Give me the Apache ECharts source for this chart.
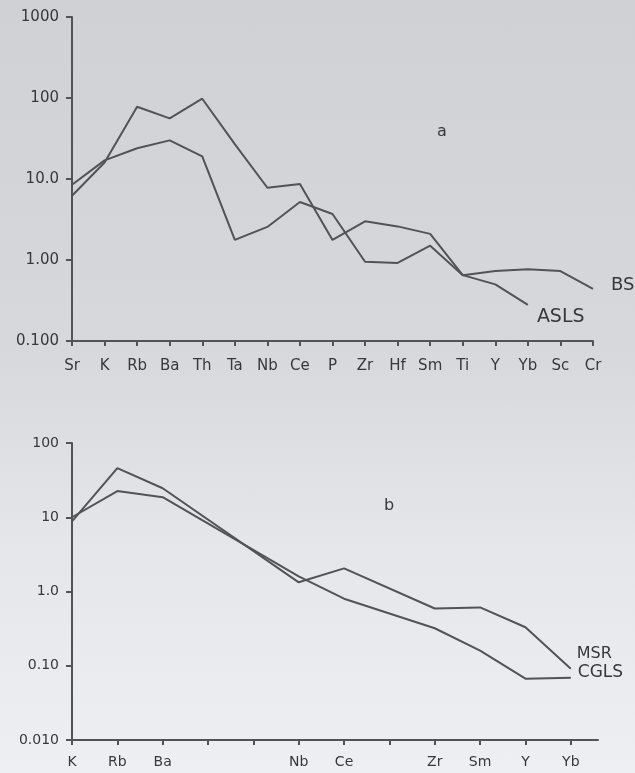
<!DOCTYPE html>
<html>
<head>
<meta charset="utf-8">
<script src="https://cdn.jsdelivr.net/npm/echarts@6/dist/echarts.min.js"></script>
<style>
  html, body { margin: 0; padding: 0; }
  body { background: linear-gradient(180deg, #d0d1d4 0%, #d7d8db 45%, #e5e6ea 70%, #eeeff2 100%); }
  #chart { width: 635px; height: 773px; }
</style>
</head>
<body>
<div id="chart"></div>
<script>
  // 图 a：元素及数值
  const catsA = ['Sr', 'K', 'Rb', 'Ba', 'Th', 'Ta', 'Nb', 'Ce', 'P', 'Zr', 'Hf', 'Sm', 'Ti', 'Y', 'Yb', 'Sc', 'Cr'];
  const bsValues = [6.2, 16, 78, 56, 98, 27, 7.8, 8.7, 1.77, 3.0, 2.6, 2.1, 0.65, 0.73, 0.77, 0.73, 0.44];
  const aslsValues = [8.5, 17, 24, 30, 19, 1.77, 2.56, 5.2, 3.7, 0.95, 0.92, 1.5, 0.65, 0.50, 0.28, null, null];
  const yLabelsA = ['0.100', '1.00', '10.0', '100', '1000'];

  // 图 b
  const catsB = ['K', 'Rb', 'Ba', '', '', 'Nb', 'Ce', '', 'Zr', 'Sm', 'Y', 'Yb'];
  const msrValues = [8.8, 46, 24.6, null, null, 1.33, 2.05, null, 0.59, 0.61, 0.33, 0.091];
  const cglsValues = [10, 22.5, 18.6, null, null, 1.6, 0.80, null, 0.32, 0.16, 0.067, 0.069];
  const yLabelsB = ['0.010', '0.10', '1.0', '10', '100'];

  const lineColor = '#535256';
  const textColor = '#38383c';
  const font = 'DejaVu Sans';

  // 去掉空值，转成 [序号, 数值]
  function pairs(vals) {
    let out = [];
    vals.forEach((v, i) => {
      if (v != null) out.push([i, v]);
    });
    return out;
  }

  function yAxis(gridIndex, min, max, labels, size) {
    let minExp = Math.round(Math.log10(min));
    return {
      gridIndex: gridIndex,
      type: 'log',
      logBase: 10,
      min: min,
      max: max,
      splitNumber: 4,
      axisLine: { show: true, lineStyle: { color: lineColor, width: 2 } },
      axisTick: { show: true, length: 6, lineStyle: { color: lineColor, width: 2 } },
      axisLabel: {
        margin: 13,
        color: textColor,
        fontFamily: font,
        fontSize: size,
        formatter: v => labels[Math.round(Math.log10(v)) - minExp]
      },
      splitLine: { show: false },
      minorTick: { show: false }
    };
  }

  function line(name, data, xi, offset, size) {
    return {
      name: name,
      type: 'line',
      xAxisIndex: xi,
      yAxisIndex: xi,
      data: pairs(data),
      symbol: 'none',
      lineStyle: { color: lineColor, width: 2 },
      endLabel: {
        show: true,
        formatter: name,
        color: textColor,
        fontFamily: font,
        fontSize: size,
        offset: offset
      }
    };
  }

  let option = {
    animation: false,
    grid: [
      { left: 72, top: 17, width: 521, height: 324 },
      { left: 72, top: 443, width: 526, height: 297 }
    ],
    xAxis: [{
      gridIndex: 0,
      type: 'value',
      min: 0,
      max: catsA.length - 1,
      interval: 1,
      axisLine: { show: true, onZero: false, lineStyle: { color: lineColor, width: 2 } },
      axisTick: { show: true, length: 5, lineStyle: { color: lineColor, width: 2 } },
      axisLabel: {
        margin: 18,
        color: textColor,
        fontFamily: font,
        fontSize: 15,
        formatter: v => catsA[Math.round(v)]
      },
      splitLine: { show: false }
    }, {
      gridIndex: 1,
      type: 'value',
      min: 0,
      max: 11.6,
      axisLine: { show: true, onZero: false, lineStyle: { color: lineColor, width: 2 } },
      axisTick: {
        show: true, length: 5, lineStyle: { color: lineColor, width: 2 },
        customValues: catsB.map((c, i) => i)
      },
      axisLabel: {
        margin: 15,
        color: textColor,
        fontFamily: font,
        fontSize: 14,
        customValues: catsB.map((c, i) => i).filter(i => catsB[i] !== ''),
        formatter: v => catsB[Math.round(v)]
      },
      splitLine: { show: false }
    }],
    yAxis: [
      yAxis(0, 0.1, 1000, yLabelsA, 15),
      yAxis(1, 0.01, 100, yLabelsB, 14)
    ],
    graphic: [
      { type: 'text', left: 437, top: 124, style: { text: 'a', fill: textColor, font: '16px "DejaVu Sans"' } },
      { type: 'text', left: 384, top: 498, style: { text: 'b', fill: textColor, font: '16px "DejaVu Sans"' } }
    ],
    series: [
      line('BS', bsValues, 0, [10, -4], 18),
      line('ASLS', aslsValues, 0, [1, 12], 19),
      line('MSR', msrValues, 1, [-2, -15], 16),
      line('CGLS', cglsValues, 1, [-1, -5], 17)
    ]
  };

  let myChart = echarts.init(document.getElementById('chart'));
  myChart.setOption(option);
</script>
</body>
</html>
